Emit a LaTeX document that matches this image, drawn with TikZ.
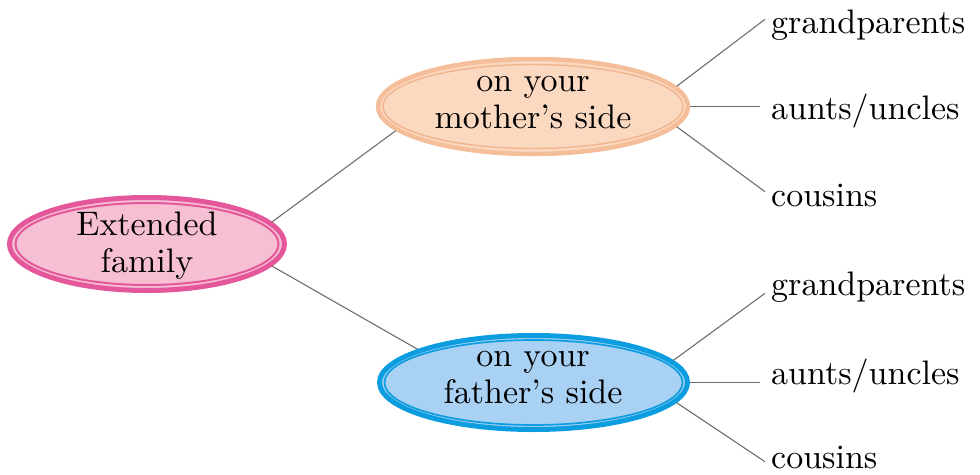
\documentclass[tikz,border=0pt]{standalone}
\usetikzlibrary{shapes.geometric}
\definecolor{pinkS}{HTML}{E4579A}
\definecolor{pinkF}{HTML}{F6BFD3}
\definecolor{peachS}{HTML}{F5BE9B}
\definecolor{peachI}{HTML}{F2B48D}
\definecolor{peachF}{HTML}{FBD9C1}
\definecolor{blueS}{HTML}{0C9DE0}
\definecolor{blueF}{HTML}{A8D1F3}
\definecolor{connC}{HTML}{6E6E6E}
\font\bigrm="[lmroman10-regular.otf]:mapping=tex-text" at 34pt
\begin{document}
\begin{tikzpicture}[x=1pt,y=-1pt,
  bubble/.style={ellipse, inner sep=0pt},
  txt/.style={font={\fontsize{34}{37}\selectfont\bigrm}, inner sep=0pt, align=center},
  leaf/.style={font={\fontsize{34}{37}\selectfont\bigrm}, inner sep=0pt, anchor=base west},
  conn/.style={draw=connC, line width=1.1pt}]
\useasboundingbox (0,0) rectangle (980,474);
% ellipses
\node[bubble, draw=pinkS, fill=pinkF, line width=5pt, minimum width=275pt, minimum height=93pt] (ext) at (147,244) {};
\draw[pinkS, line width=2pt] (ext.center) ellipse [x radius=131.5, y radius=41];
\node[bubble, draw=peachS, fill=peachF, line width=4.5pt, minimum width=310pt, minimum height=95pt] (mom) at (533,106.5) {};
\draw[peachI, line width=1.4pt] (mom.center) ellipse [x radius=150, y radius=42];
\node[bubble, draw=blueS, fill=blueF, line width=5pt, minimum width=308pt, minimum height=94pt] (dad) at (533.5,382.5) {};
\draw[blueS, line width=1.7pt] (dad.center) ellipse [x radius=149, y radius=42.5];
% texts
\node[txt, anchor=base] (extT) at (147,272) {Extended\\family};
\node[txt, anchor=base] (momT) at (533,128.3) {on your\\mother’s side};
\node[txt, anchor=base] (dadT) at (533,403.3) {on your\\father’s side};
% leaves
\node[leaf] (g1) at (771,33.3) {grandparents};
\node[leaf] (a1) at (771,119.3) {aunts/uncles};
\node[leaf] (c1) at (771,206.7) {cousins};
\node[leaf] (g2) at (771,295) {grandparents};
\node[leaf] (a2) at (771,384) {aunts/uncles};
\node[leaf] (c2) at (771,468) {cousins};
% connectors
\draw[conn] (ext.10.6) -- (mom.190);
\draw[conn] (ext.-10) -- (dad.164);
\draw[conn] (mom.8) -- ([shift={(-6,-14)}]g1.base west);
\draw[conn] (mom.0) -- ([shift={(-11,-12.8)}]a1.base west);
\draw[conn] (mom.-8) -- ([shift={(-6,-15)}]c1.base west);
\draw[conn] (dad.9) -- ([shift={(-6,-1.7)}]g2.base west);
\draw[conn] (dad.0) -- ([shift={(-11,-1.5)}]a2.base west);
\draw[conn] (dad.-8) -- ([shift={(-6,-6.3)}]c2.base west);
\end{tikzpicture}
\end{document}
